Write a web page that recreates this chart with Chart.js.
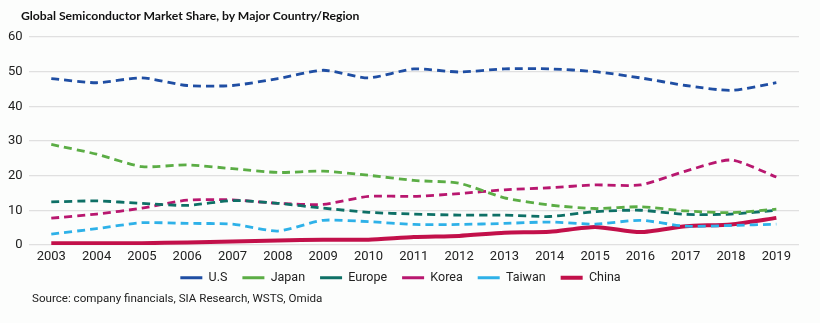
<!DOCTYPE html>
<html>
<head>
<meta charset="utf-8">
<script src="https://cdn.jsdelivr.net/npm/chart.js@4.4.1/dist/chart.umd.min.js"></script>
<style>
  body { margin: 0; background: #fcfdfc; }
  #wrap { position: relative; width: 820px; height: 323px; }
  #title { position: absolute; left: 21px; top: 8px; font: bold 12.2px Lato, sans-serif; color: #111; }
  #source { position: absolute; left: 32px; top: 291px; font: 11.6px Roboto, sans-serif; color: #222; }
  canvas { position: absolute; left: 0; top: 0; }
</style>
</head>
<body>
<div id="wrap">
  <canvas id="myChart" width="820" height="323"></canvas>
  <div id="title">Global Semiconductor Market Share, by Major Country/Region</div>
  <div id="source">Source: company financials, SIA Research, WSTS, Omida</div>
</div>
<script>
const years = ["2003", "2004", "2005", "2006", "2007", "2008", "2009", "2010", "2011",
  "2012", "2013", "2014", "2015", "2016", "2017", "2018", "2019"];

const us = [48.0, 46.8, 48.2, 46.0, 46.0, 48.0, 50.4, 48.2, 50.8, 49.9, 50.8, 50.8, 50.0, 48.2, 46.0, 44.6, 46.8];
const japan = [29.0, 26.2, 22.6, 23.1, 22.0, 20.9, 21.3, 20.1, 18.6, 17.8, 13.6, 11.5, 10.5, 11.0, 9.8, 9.3, 10.3];
const europe = [12.4, 12.7, 12.0, 11.4, 12.8, 12.0, 10.6, 9.4, 8.9, 8.6, 8.6, 8.2, 9.6, 10.0, 8.8, 8.9, 10.0];
const korea = [7.7, 8.9, 10.6, 12.9, 13.0, 12.0, 11.7, 14.0, 14.0, 14.8, 15.9, 16.5, 17.3, 17.3, 21.3, 24.5, 19.6];
const taiwan = [3.1, 4.7, 6.4, 6.2, 6.0, 4.0, 7.1, 6.7, 5.9, 5.9, 6.2, 6.6, 6.0, 7.1, 5.4, 5.6, 6.0];
const china = [0.5, 0.5, 0.5, 0.7, 1.0, 1.3, 1.5, 1.5, 2.3, 2.6, 3.5, 3.8, 5.2, 3.7, 5.4, 5.9, 7.8];

const yTicks = [0, 10, 20, 30, 40, 50, 60];

const font = "Roboto, sans-serif";

function dashed(label, data, color) {
  return {
    label: label,
    data: data,
    borderColor: color,
    backgroundColor: color,
    borderWidth: 2.8,
    borderDash: [8, 5],
    pointRadius: 0,
    tension: 0.22
  };
}

// legend padding is also used between items, so nudge the whole legend up a bit
const legendNudge = {
  id: "legendNudge",
  afterLayout(chart) {
    chart.legend.top -= 12;
    chart.legend.bottom -= 12;
  }
};

let ctx = document.getElementById("myChart").getContext("2d");
let myChart = new Chart(ctx, {
  type: "line",
  data: {
    labels: years,
    datasets: [
      dashed("U.S", us, "#1f4ea3"),
      dashed("Japan", japan, "#5bad45"),
      dashed("Europe", europe, "#0e7066"),
      dashed("Korea", korea, "#b8176f"),
      dashed("Taiwan", taiwan, "#2eb1e8"),
      {
        label: "China",
        data: china,
        borderColor: "#c2104a",
        backgroundColor: "#c2104a",
        borderWidth: 4,
        pointRadius: 0,
        tension: 0.22
      }
    ]
  },
  options: {
    responsive: false,
    animation: false,
    layout: { padding: { top: 37, right: 21, left: 2, bottom: 17 } },
    scales: {
      x: {
        offset: true,
        grid: { display: false, drawTicks: false },
        border: { display: false },
        ticks: { color: "#222", font: { family: font, size: 13 }, padding: 4, maxRotation: 0 }
      },
      y: {
        min: 0,
        max: 60,
        afterBuildTicks: (axis) => { axis.ticks = yTicks.map(v => ({ value: v })); },
        grid: { color: "#e0e0e0", lineWidth: 1.2, drawTicks: false },
        border: { display: false },
        ticks: { color: "#222", font: { family: font, size: 13 }, padding: 6 }
      }
    },
    plugins: {
      legend: {
        position: "bottom",
        labels: {
          usePointStyle: true,
          pointStyle: "line",
          pointStyleWidth: 22,
          padding: 15,
          color: "#222",
          font: { family: font, size: 12.5 }
        }
      },
      tooltip: { enabled: false }
    }
  },
  plugins: [legendNudge]
});
</script>
</body>
</html>
